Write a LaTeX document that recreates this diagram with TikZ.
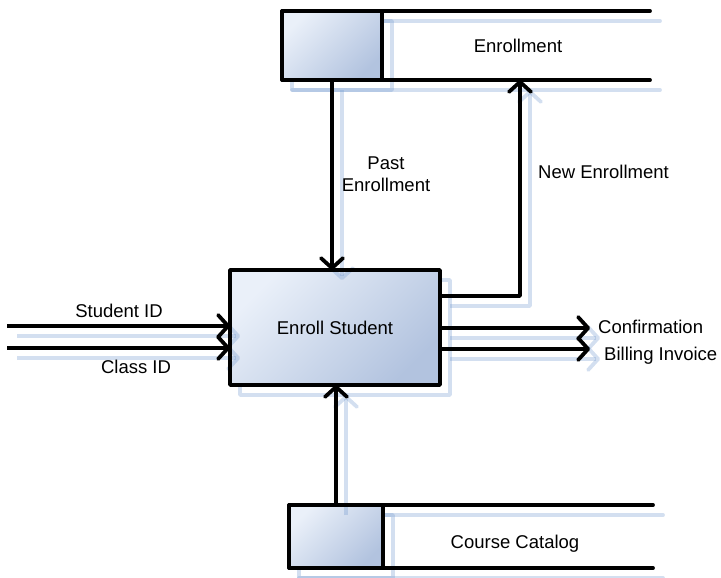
\documentclass[tikz,border=0pt]{standalone}
\usepackage{fontspec}
\setmainfont{Liberation Sans}
\usetikzlibrary{arrows.meta}

\definecolor{boxlight}{RGB}{234,240,249}
\definecolor{boxmid}{RGB}{196,210,232}
\definecolor{boxdark}{RGB}{178,195,223}
\definecolor{shadowc}{RGB}{110,150,205}

% Geometry of the data-flow diagram, drawn once per pass
\newcommand\dfdlayout{%
  \node[box, boxstyle, minimum width=210pt, minimum height=115pt] (proc) at (335,327.5) {};
  \node[box, boxstyle, minimum width=100pt, minimum height=69pt] (enr) at (332,45.5) {};
  \node[box, boxstyle, minimum width=94pt, minimum height=63pt] (cat) at (336,536.5) {};
  \coordinate (enrEnd) at (650,80);
  \coordinate (catEnd) at (653,568);
  \draw[storeline] (enr.north west) -- (enr.north west -| enrEnd);
  \draw[storeline] (enr.south west) -- (enrEnd);
  \draw[storeline] (cat.north west) -- (cat.north west -| catEnd);
  \draw[storeline] (cat.south west) -- (catEnd);
  \coordinate (newIn) at (520,80);
  \coordinate (newOut) at (0,296);
  \coordinate (sid) at (7,326);
  \coordinate (cid) at (7,348);
  \coordinate (conf) at (590,328);
  \coordinate (bill) at (590,349);
  \draw[flow] (enr.south) -- (enr.south |- proc.north);
  \draw[flow] (newOut -| proc.east) -| (newIn);
  \draw[flow] (cat.north) -- (cat.north |- proc.south);
  \draw[flow] (sid) -- (sid -| proc.west);
  \draw[flow] (cid) -- (cid -| proc.west);
  \draw[flow] (conf -| proc.east) -- (conf);
  \draw[flow] (bill -| proc.east) -- (bill);
}

\tikzset{
  box/.style={rectangle, inner sep=0pt, outer sep=0pt},
  barb/.style={-{Straight Barb[length=10pt,width=22pt,round]}},
  lbl/.style={inner sep=0pt, font=\fontsize{18.5}{22}\selectfont},
  pale/.style={draw=shadowc, draw opacity=0.3, line width=3.8pt},
  % pale offset shadow of the boxes and store lines
  dfd shadow/.style={
    shift={(10,10)},
    boxstyle/.style={pale},
    flow/.style={draw=none},
    storeline/.style={pale, line cap=round}},
  % gradient fills of the boxes only
  dfd fills/.style={
    boxstyle/.style={draw=none, top color=boxlight, middle color=boxmid,
      bottom color=boxdark, shading angle=45},
    flow/.style={draw=none},
    storeline/.style={draw=none}},
  % shadows of the flows, showing through the filled boxes
  dfd shadow flows/.style={
    shift={(10,10)},
    boxstyle/.style={draw=none},
    flow/.style={pale, barb},
    storeline/.style={draw=none}},
  % black outlines and flows
  dfd ink/.style={
    boxstyle/.style={draw=black, line width=3.8pt},
    flow/.style={draw=black, line width=3.8pt, barb},
    storeline/.style={draw=black, line width=3.8pt, line cap=round}},
}

\begin{document}
\begin{tikzpicture}[x=1pt, y=-1pt, line join=round]
\useasboundingbox (0,0) rectangle (721,578);

\begin{scope}[dfd shadow]\dfdlayout\end{scope}
\begin{scope}[dfd fills]\dfdlayout\end{scope}
\begin{scope}[dfd shadow flows]\dfdlayout\end{scope}
\begin{scope}[dfd ink]\dfdlayout\end{scope}

\node[lbl, anchor=base] (tProc) at (335,334) {Enroll Student};
\node[lbl, anchor=base] (tEnr) at (518,53) {Enrollment};
\node[lbl, anchor=base] (tCat) at (515,548) {Course Catalog};
\node[lbl, anchor=base] (tPast1) at (386,169) {Past};
\node[lbl, anchor=base] (tPast2) at (386,191) {Enrollment};
\node[lbl, anchor=base west] (tNew) at (538,178) {New Enrollment};
\node[lbl, anchor=base] (tSid) at (119,317) {Student ID};
\node[lbl, anchor=base] (tCid) at (136,373) {Class ID};
\node[lbl, anchor=base west] (tConf) at (598,333) {Confirmation};
\node[lbl, anchor=base west] (tBill) at (604,360) {Billing Invoice};
\end{tikzpicture}
\end{document}
